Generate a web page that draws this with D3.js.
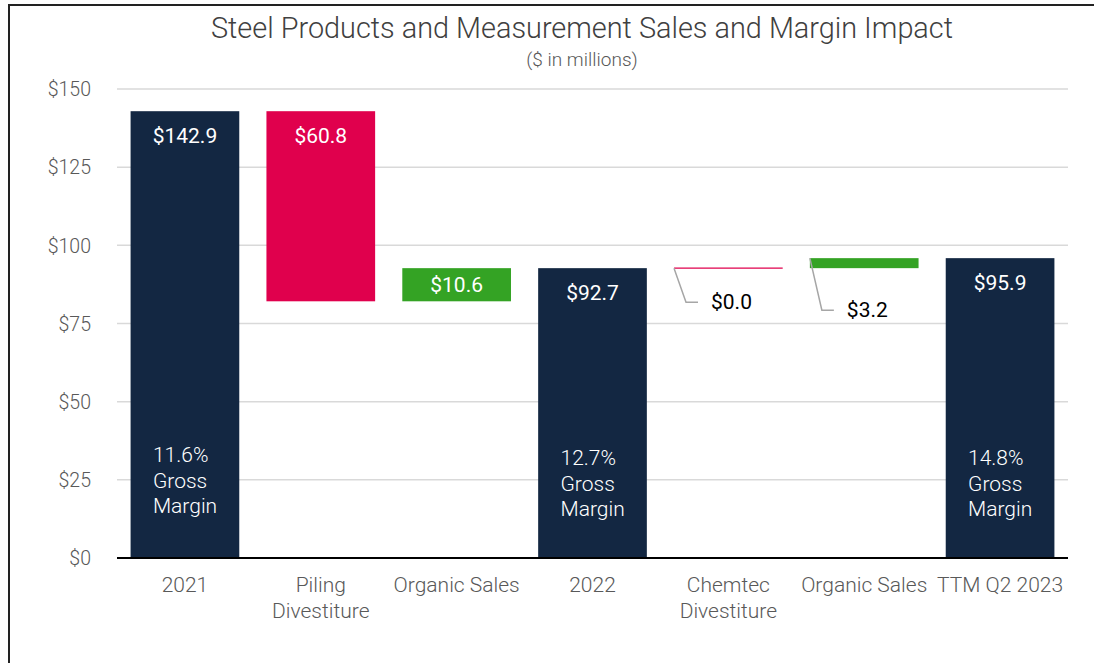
<!DOCTYPE html>
<html lang="en">
<head>
    <meta charset="UTF-8">
    <title>Steel Products and Measurement Sales and Margin Impact</title>
    <style>
        body {
            margin: 0;
            background-color: #fff;
            font-family: Roboto, "Open Sans", Arial, sans-serif;
        }
        #chart {
            position: relative;
            width: 1094px;
            height: 663px;
        }
        .grid line {
            stroke: #d9d9d9;
            stroke-width: 1.5px;
        }
        .light {
            font-family: "Roboto Light", Roboto, sans-serif;
            font-weight: 300;
        }
        .tick-label {
            fill: #595959;
        }
    </style>
</head>
<body>
    <div id="chart"></div>
    <script src="https://d3js.org/d3.v7.min.js"></script>
    <script>
        // Chart data
        const categories = ["2021", "Piling\nDivestiture", "Organic Sales", "2022", "Chemtec\nDivestiture", "Organic Sales", "TTM Q2 2023"];
        const values = [142.9, -60.8, 10.6, 92.7, 0.0, 3.2, 95.9];
        const kinds = ["total", "decrease", "increase", "total", "decrease", "increase", "total"];
        const margins = ["11.6%", null, null, "12.7%", null, null, "14.8%"];
        const yTicks = [0, 25, 50, 75, 100, 125, 150];

        const width = 1094;
        const height = 663;
        const margin = { top: 89, right: 26, bottom: 105, left: 117 };

        const colors = { total: "#132742", decrease: "#e0004d", increase: "#34a324" };

        const svg = d3.select("#chart").append("svg")
            .attr("width", width)
            .attr("height", height);

        // Frame lines (top and left)
        svg.append("line").attr("x1", 8).attr("x2", width).attr("y1", 5).attr("y2", 5)
            .attr("stroke", "#222").attr("stroke-width", 2);
        svg.append("line").attr("x1", 9).attr("x2", 9).attr("y1", 4).attr("y2", height)
            .attr("stroke", "#222").attr("stroke-width", 2);

        // Waterfall steps
        let running = 0;
        const steps = values.map((v, i) => {
            let start, end;
            if (kinds[i] === "total") {
                start = 0; end = v; running = v;
            } else {
                start = running; end = running + v; running = end;
            }
            return { i, value: v, kind: kinds[i], lo: Math.min(start, end), hi: Math.max(start, end), margin: margins[i] };
        });

        const x = d3.scaleBand()
            .domain(d3.range(categories.length))
            .range([margin.left, width - margin.right])
            .paddingInner(0.2)
            .paddingOuter(0.1);

        const y = d3.scaleLinear()
            .domain([0, 150])
            .range([height - margin.bottom, margin.top]);

        // Title
        svg.append("text")
            .attr("class", "light")
            .attr("x", 582).attr("y", 38)
            .attr("text-anchor", "middle")
            .attr("font-size", 28.8)
            .attr("fill", "#404040")
            .attr("textLength", 742)
            .attr("lengthAdjust", "spacingAndGlyphs")
            .text("Steel Products and Measurement Sales and Margin Impact");
        svg.append("text")
            .attr("class", "light")
            .attr("x", 582).attr("y", 66)
            .attr("text-anchor", "middle")
            .attr("font-size", 19)
            .attr("fill", "#595959")
            .text("($ in millions)");

        // Gridlines
        svg.append("g").attr("class", "grid")
            .selectAll("line")
            .data(yTicks.filter(d => d > 0))
            .join("line")
            .attr("x1", margin.left).attr("x2", width - margin.right)
            .attr("y1", d => y(d)).attr("y2", d => y(d));

        // Y axis labels
        const yAxis = d3.axisLeft(y).tickValues(yTicks).tickFormat(d => "$" + d).tickSize(0).tickPadding(26);
        const yg = svg.append("g").attr("transform", `translate(${margin.left},0)`).call(yAxis)
            .attr("font-family", null).attr("font-size", null);
        yg.select(".domain").remove();
        yg.selectAll("text").attr("class", "light tick-label").attr("font-size", 19.5).attr("dy", "0.35em");

        // Bars
        svg.append("g").selectAll("rect")
            .data(steps.filter(d => d.hi - d.lo > 0))
            .join("rect")
            .attr("x", d => x(d.i))
            .attr("width", x.bandwidth())
            .attr("y", d => y(d.hi))
            .attr("height", d => y(d.lo) - y(d.hi))
            .attr("fill", d => colors[d.kind]);

        // Zero-height step drawn as a thin line
        svg.append("g").selectAll("line")
            .data(steps.filter(d => d.hi - d.lo === 0))
            .join("line")
            .attr("x1", d => x(d.i)).attr("x2", d => x(d.i) + x.bandwidth())
            .attr("y1", d => y(d.hi)).attr("y2", d => y(d.hi))
            .attr("stroke", colors.decrease).attr("stroke-width", 1.2);

        // Baseline
        svg.append("line")
            .attr("x1", margin.left).attr("x2", width - margin.right)
            .attr("y1", y(0)).attr("y2", y(0))
            .attr("stroke", "#000").attr("stroke-width", 2);

        const fmt = v => "$" + Math.abs(v).toFixed(1);

        // Value labels inside bars
        const inside = steps.filter(d => y(d.lo) - y(d.hi) > 25);
        svg.append("g").selectAll("text")
            .data(inside)
            .join("text")
            .attr("x", d => x(d.i) + x.bandwidth() / 2)
            .attr("y", d => d.kind === "total" || d.kind === "decrease" ? y(d.hi) + 32 : (y(d.hi) + y(d.lo)) / 2 + 7)
            .attr("text-anchor", "middle")
            .attr("font-size", 21)
            .attr("fill", "#fff")
            .text(d => fmt(d.value));

        // Callout labels for thin bars
        const outside = steps.filter(d => y(d.lo) - y(d.hi) <= 25);
        const callouts = svg.append("g").selectAll("g")
            .data(outside)
            .join("g")
            .attr("transform", d => `translate(${x(d.i)},${y(d.hi)})`);
        callouts.append("polyline")
            .attr("points", d => {
                const drop = d.hi - d.lo === 0 ? 34 : 52;
                return `0,0 12,${drop} 24,${drop}`;
            })
            .attr("fill", "none")
            .attr("stroke", "#a6a6a6")
            .attr("stroke-width", 1.5);
        callouts.append("text")
            .attr("x", 37)
            .attr("y", d => (d.hi - d.lo === 0 ? 34 : 52) + 7)
            .attr("font-size", 21)
            .attr("fill", "#000")
            .text(d => fmt(d.value));

        // Gross margin notes
        const notes = svg.append("g").selectAll("text")
            .data(steps.filter(d => d.margin))
            .join("text")
            .attr("class", "light")
            .attr("font-size", 21)
            .attr("fill", "#fff");
        notes.selectAll("tspan")
            .data(d => [d.margin, "Gross", "Margin"].map((t, k) => ({ t, k, d })))
            .join("tspan")
            .attr("x", o => x(o.d.i) + x.bandwidth() / 2 - 32)
            .attr("y", o => (o.d.i === 0 ? 462 : 465) + o.k * 25.5)
            .text(o => o.t);

        // X category labels
        const xg = svg.append("g").selectAll("text")
            .data(categories.map((c, i) => ({ c, i })))
            .join("text")
            .attr("class", "light tick-label")
            .attr("text-anchor", "middle")
            .attr("font-size", 21);
        xg.selectAll("tspan")
            .data(d => d.c.split("\n").map((t, k) => ({ t, k, i: d.i })))
            .join("tspan")
            .attr("x", o => x(o.i) + x.bandwidth() / 2)
            .attr("y", o => 592 + o.k * 26)
            .text(o => o.t);
    </script>
</body>
</html>
